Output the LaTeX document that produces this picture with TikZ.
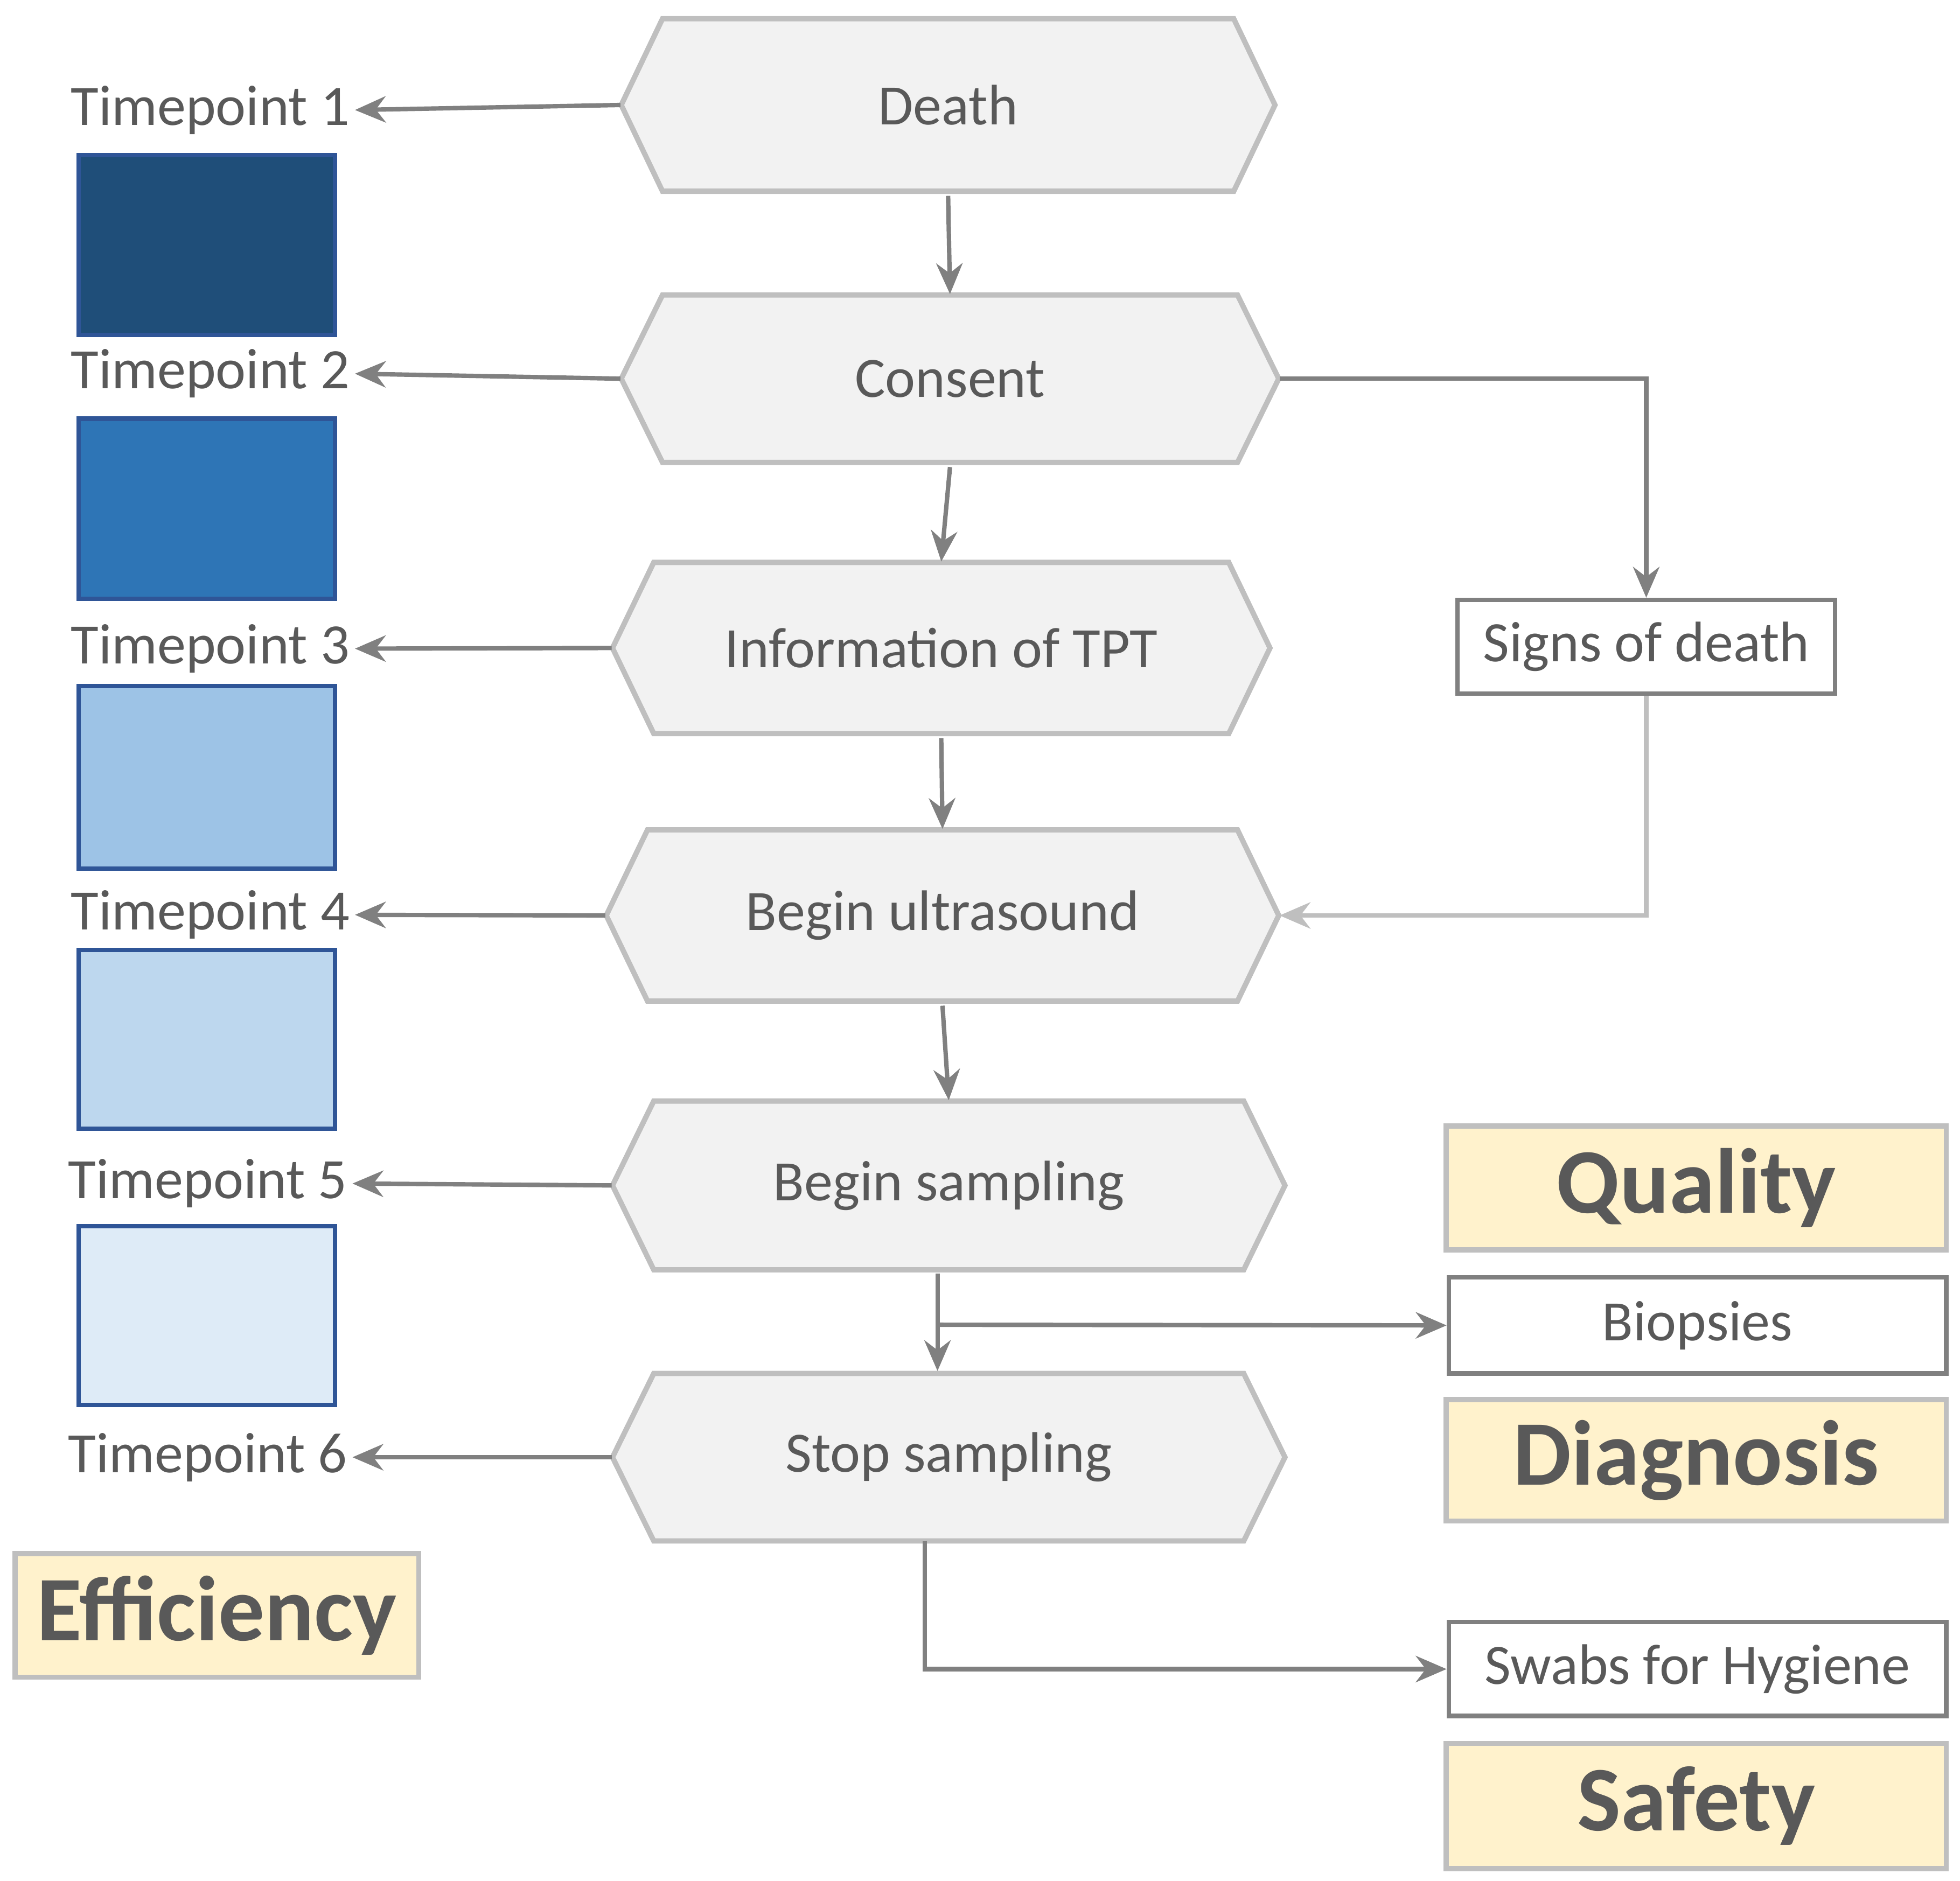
\documentclass[tikz,border=0pt]{standalone}
\usepackage{fontspec}
\setmainfont{Carlito}
\usetikzlibrary{arrows.meta}
\definecolor{tg}{HTML}{595959}
\definecolor{lg}{HTML}{808080}
\definecolor{hexfill}{HTML}{F2F2F2}
\definecolor{hexline}{HTML}{BFBFBF}
\definecolor{yel}{HTML}{FFF2CC}
\definecolor{bb}{HTML}{2F5597}
\newcommand\hexa[7]{%
 \draw[hexs] (#2,{(#4+#5)/2}) -- (#2+#6,#4) -- (#3-#6,#4) -- (#3,{(#4+#5)/2}) -- (#3-#6,#5) -- (#2+#6,#5) -- cycle;
 \node[hext, minimum width={(#3-#2)*0.01cm}, minimum height={(#5-#4)*0.01cm}] (#1) at ({(#2+#3)/2},{(#4+#5)/2}) {#7};}
\newcommand\rbox[7]{% name x1 x2 yt yb style text
 \node[#6, minimum width={(#3-#2)*0.01cm}, minimum height={(#5-#4)*0.01cm}] (#1) at ({(#2+#3)/2},{(#4+#5)/2}) {#7};}
\tikzset{
 hexs/.style={fill=hexfill,draw=hexline,line width=1.2pt},
 hext/.style={inner sep=0pt,text=tg,font=\fontsize{13}{15}\selectfont},
 wbox/.style={draw=lg,line width=1pt,fill=white,inner sep=0pt,text=tg,font=\fontsize{13}{15}\selectfont},
 ybox/.style={draw=hexline,line width=1.2pt,fill=yel,inner sep=0pt,text=tg,font=\fontsize{21}{24}\selectfont\bfseries},
 tp/.style={text=tg,font=\fontsize{13}{15}\selectfont,anchor=east,inner sep=1pt},
 sw/.style={draw=bb,line width=1pt},
 arr/.style={draw=lg,line width=1pt,-{Stealth[length=7pt,width=6pt]}}
}
\begin{document}
\begin{tikzpicture}[x=0.01cm,y=-0.01cm]
\useasboundingbox[fill=white] (0,0) rectangle (1568,1505);
\hexa{d}{497}{1020}{15}{153}{33}{Death}
\hexa{c}{497}{1023}{236}{370}{33}{Consent}
\hexa{i}{490}{1016}{450}{587}{33}{Information of TPT}
\hexa{u}{485}{1023}{664}{801}{33}{Begin ultrasound}
\hexa{s}{490}{1028}{881}{1016}{33}{Begin sampling}
\hexa{t}{490}{1028}{1099}{1233}{33}{Stop sampling}
\node[tp] (t1) at (284,88) {Timepoint 1};
\node[tp] (t2) at (284,299) {Timepoint 2};
\node[tp] (t3) at (284,519) {Timepoint 3};
\node[tp] (t4) at (284,732) {Timepoint 4};
\node[tp] (t5) at (282,947) {Timepoint 5};
\node[tp] (t6) at (282,1166) {Timepoint 6};
\fill[sw,fill={rgb,255:red,31;green,78;blue,121}] (63,124) rectangle (268,268);
\fill[sw,fill={rgb,255:red,46;green,117;blue,182}] (63,335) rectangle (268,479);
\filldraw[sw,fill={rgb,255:red,157;green,195;blue,230}] (63,549) rectangle (268,695);
\filldraw[sw,fill={rgb,255:red,189;green,215;blue,238}] (63,760) rectangle (268,903);
\filldraw[sw,fill={rgb,255:red,222;green,235;blue,247}] (63,981) rectangle (268,1124);
\draw[sw] (63,124) rectangle (268,268);
\draw[sw] (63,335) rectangle (268,479);
\rbox{sd}{1166}{1468}{480}{555}{wbox}{Signs of death}
\rbox{q}{1157}{1557}{901}{1000}{ybox}{Quality}
\rbox{b}{1159}{1557}{1022}{1099}{wbox}{Biopsies}
\rbox{dg}{1157}{1557}{1120}{1217}{ybox}{Diagnosis}
\rbox{sh}{1159}{1557}{1298}{1373}{wbox}{Swabs for Hygiene}
\rbox{sf}{1157}{1557}{1395}{1495}{ybox}{Safety}
\rbox{ef}{12}{335}{1243}{1342}{ybox}{Efficiency}
\foreach \h/\l in {d/t1,c/t2,i/t3,u/t4,s/t5,t/t6} \draw[arr] (\h.west) -- (\l.east);
\draw[arr] (d.south) ++(0,3) -- (c.north);
\draw[arr] (c.south) ++(0,3) -- (i.north);
\draw[arr] (i.south) ++(0,3) -- (u.north);
\draw[arr] (u.south) ++(0,3) -- (s.north);
\draw[arr] (750,1019) -- (750,1097);
\coordinate (br) at (750,1060);
\draw[arr] (br) -- (b.west);
\draw[arr] (c.east) -| (sd.north);
\draw[arr,draw=hexline] (sd.south) |- (u.east);
\draw[arr] (740,1233) |- (sh.west);
\end{tikzpicture}
\end{document}
